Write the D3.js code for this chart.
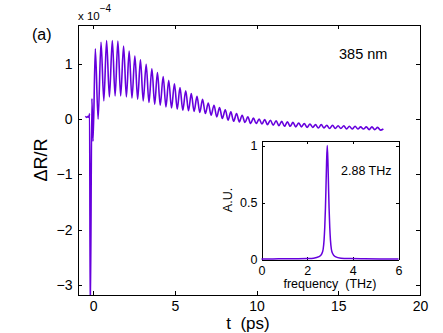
<!DOCTYPE html>
<html>
<head>
<meta charset="utf-8">
<script src="https://cdn.jsdelivr.net/npm/d3@7"></script>
<style>
body{margin:0;background:#fff;}
text{font-family:"Liberation Sans",Arial,sans-serif;fill:#000;}
.axis path,.axis line{stroke:#000;shape-rendering:crispEdges;}
</style>
</head>
<body>
<div id="canvas" class="canvas"></div>
<script>
var tPs = [-0.47,-0.38,-0.30,-0.25,-0.21,-0.17,-0.07,0.00,
    0.14,0.31,0.49,0.66,0.83,1.00,1.18,1.35,1.52,1.69,1.87,2.04,2.21,2.38,2.56,2.73,2.90,3.07,
    3.25,3.42,3.60,3.77,3.94,4.11,4.29,4.46,4.63,4.80,4.98,5.15,5.32,5.49,5.67,5.84,6.01,6.18,
    6.36,6.53,6.70,6.87,7.05,7.22,7.40,7.57,7.74,7.91,8.09,8.26,8.43,8.60,8.78,8.95,9.12,9.29,
    9.47,9.64,9.81,9.98,10.16,10.33,10.50,10.67,10.85,11.02,11.20,11.37,11.54,11.71,11.89,12.06,
    12.23,12.40,12.58,12.75,12.92,13.09,13.27,13.44,13.61,13.78,13.96,14.13,14.30,14.47,14.65,14.82,
    14.99,15.16,15.34,15.51,15.68,15.85,16.03,16.20,16.37,16.54,16.72,16.89,17.06,17.23,17.41,17.58,17.76];
var dR = [0.05,0.03,0.05,0.03,0.10,-3.6,0.37,-0.4,
    1.27,0.00,1.39,0.33,1.42,0.40,1.42,0.42,1.41,0.42,1.32,0.40,1.23,0.38,1.14,0.36,1.07,0.33,
    0.99,0.30,0.91,0.27,0.84,0.25,0.77,0.22,0.70,0.20,0.64,0.18,0.57,0.16,0.51,0.15,0.46,0.14,
    0.41,0.12,0.36,0.10,0.29,0.07,0.25,0.04,0.21,0.01,0.17,-0.02,0.13,-0.04,0.10,-0.05,0.07,-0.06,
    0.04,-0.08,0.02,-0.08,0.00,-0.09,-0.01,-0.10,-0.02,-0.11,-0.03,-0.12,-0.04,-0.13,-0.05,-0.13,
    -0.06,-0.14,-0.07,-0.14,-0.08,-0.15,-0.09,-0.15,-0.10,-0.16,-0.10,-0.16,-0.11,-0.17,-0.11,-0.17,
    -0.12,-0.17,-0.12,-0.18,-0.13,-0.18,-0.13,-0.18,-0.14,-0.18,-0.14,-0.19,-0.14,-0.19,-0.15,-0.20,-0.18];

//spectrum for the inset
var freq = [0,0.5,1.0,1.5,2.0,2.28,2.52,2.64,2.70,2.74,2.77,2.80,2.82,2.85,2.88,2.91,2.94,2.96,2.99,3.02,3.06,3.12,3.23,3.48,3.88,4.5,5.2,6.0];
var amp = [0.004,0.005,0.006,0.007,0.009,0.012,0.025,0.05,0.09,0.17,0.28,0.45,0.6,0.85,1.0,0.85,0.6,0.45,0.28,0.17,0.09,0.05,0.025,0.012,0.008,0.006,0.005,0.004];

var xTicks = [0,5,10,15,20],
    yTicks = [-3,-2,-1,0,1],
    insetXTicks = [0,2,4,6],
    insetYTicks = [0,0.5,1];

var lineColor = '#6600dd';
var fmt = d3.format('~g');

var svg = d3.select('.canvas')
    .append('svg')
    .attr('width',443)
    .attr('height',333);

//main axes box
var m = {l:77.5,r:420,t:24.5,b:295};

var scaleX = d3.scaleLinear().domain([-0.95,20]).range([m.l,m.r]);
var scaleY = d3.scaleLinear().domain([-3.18,1.71]).range([m.b,m.t]);

svg.append('clipPath').attr('id','clipMain')
    .append('rect')
    .attr('x',m.l).attr('y',m.t)
    .attr('width',m.r-m.l).attr('height',m.b-m.t);

//axes, ticks pointing inwards on all four sides
svg.append('g').attr('class','axis')
    .attr('transform','translate(0,'+m.b+')')
    .call(d3.axisBottom(scaleX).tickValues(xTicks).tickFormat(fmt).tickSize(-4).tickSizeOuter(0).tickPadding(6))
    .selectAll('text').style('font-size','14px');
svg.append('g').attr('class','axis')
    .attr('transform','translate(0,'+m.t+')')
    .call(d3.axisTop(scaleX).tickValues(xTicks).tickSize(-4).tickSizeOuter(0).tickFormat(''));
svg.append('g').attr('class','axis')
    .attr('transform','translate('+m.l+',0)')
    .call(d3.axisLeft(scaleY).tickValues(yTicks).tickFormat(fmt).tickSize(-4).tickSizeOuter(0).tickPadding(5))
    .selectAll('text').style('font-size','14px');
svg.append('g').attr('class','axis')
    .attr('transform','translate('+m.r+',0)')
    .call(d3.axisRight(scaleY).tickValues(yTicks).tickSize(-4).tickSizeOuter(0).tickFormat(''));
svg.selectAll('.axis text').attr('fill','#000');

//time trace
var pts = tPs.map(function(t,i){return [t,dR[i]];});
var line = d3.line()
    .x(function(d){return scaleX(d[0]);})
    .y(function(d){return scaleY(d[1]);})
    .curve(d3.curveMonotoneX);

svg.append('path')
    .datum(pts)
    .attr('clip-path','url(#clipMain)')
    .attr('d',line)
    .attr('fill','none')
    .attr('stroke',lineColor)
    .attr('stroke-width',1.6)
    .attr('stroke-linejoin','round');

//labels
svg.append('text')
    .attr('x',248).attr('y',329)
    .attr('text-anchor','middle')
    .style('font-size','17px')
    .style('white-space','pre')
    .text('t  (ps)');
svg.append('text')
    .attr('transform','translate(47,160) rotate(-90)')
    .attr('text-anchor','middle')
    .style('font-size','18px')
    .text('ΔR/R');
svg.append('text')
    .attr('x',32).attr('y',40)
    .style('font-size','16px')
    .text('(a)');
svg.append('text')
    .attr('x',339).attr('y',59)
    .style('font-size','14.5px')
    .text('385 nm');
var exp = svg.append('text')
    .attr('x',78).attr('y',20)
    .style('font-size','11.5px');
exp.append('tspan').text('x 10');
exp.append('tspan').attr('dy',-8).style('font-size','10px').text('−4');

//inset
var n = {l:261.5,r:398.5,t:140.5,b:259.5};
var insetX = d3.scaleLinear().domain([0,6]).range([n.l,n.r]);
var insetY = d3.scaleLinear().domain([0,1.044]).range([n.b,n.t]);

svg.append('rect')
    .attr('x',n.l).attr('y',n.t)
    .attr('width',n.r-n.l).attr('height',n.b-n.t)
    .attr('fill','#fff');

svg.append('g').attr('class','axis')
    .attr('transform','translate(0,'+n.b+')')
    .call(d3.axisBottom(insetX).tickValues(insetXTicks).tickFormat(fmt).tickSize(-3).tickSizeOuter(0).tickPadding(7))
    .selectAll('text').style('font-size','12.5px');
svg.append('g').attr('class','axis')
    .attr('transform','translate(0,'+n.t+')')
    .call(d3.axisTop(insetX).tickValues(insetXTicks).tickSize(-3).tickSizeOuter(0).tickFormat(''));
svg.append('g').attr('class','axis')
    .attr('transform','translate('+n.l+',0)')
    .call(d3.axisLeft(insetY).tickValues(insetYTicks).tickFormat(fmt).tickSize(-3).tickSizeOuter(0).tickPadding(4))
    .selectAll('text').style('font-size','12.5px');
svg.append('g').attr('class','axis')
    .attr('transform','translate('+n.r+',0)')
    .call(d3.axisRight(insetY).tickValues(insetYTicks).tickSize(-3).tickSizeOuter(0).tickFormat(''));
svg.selectAll('.axis text').attr('fill','#000');

var specLine = d3.line()
    .x(function(d,i){return insetX(freq[i]);})
    .y(function(d){return insetY(d);})
    .curve(d3.curveMonotoneX);

svg.append('path')
    .datum(amp)
    .attr('d',specLine)
    .attr('fill','none')
    .attr('stroke',lineColor)
    .attr('stroke-width',1.5);

svg.append('text')
    .attr('x',330).attr('y',288)
    .attr('text-anchor','middle')
    .style('font-size','12.5px')
    .style('white-space','pre')
    .text('frequency  (THz)');
svg.append('text')
    .attr('transform','translate(232,200) rotate(-90)')
    .attr('text-anchor','middle')
    .style('font-size','12.5px')
    .text('A.U.');
svg.append('text')
    .attr('x',341).attr('y',175)
    .style('font-size','12.5px')
    .text('2.88 THz');
</script>
</body>
</html>
